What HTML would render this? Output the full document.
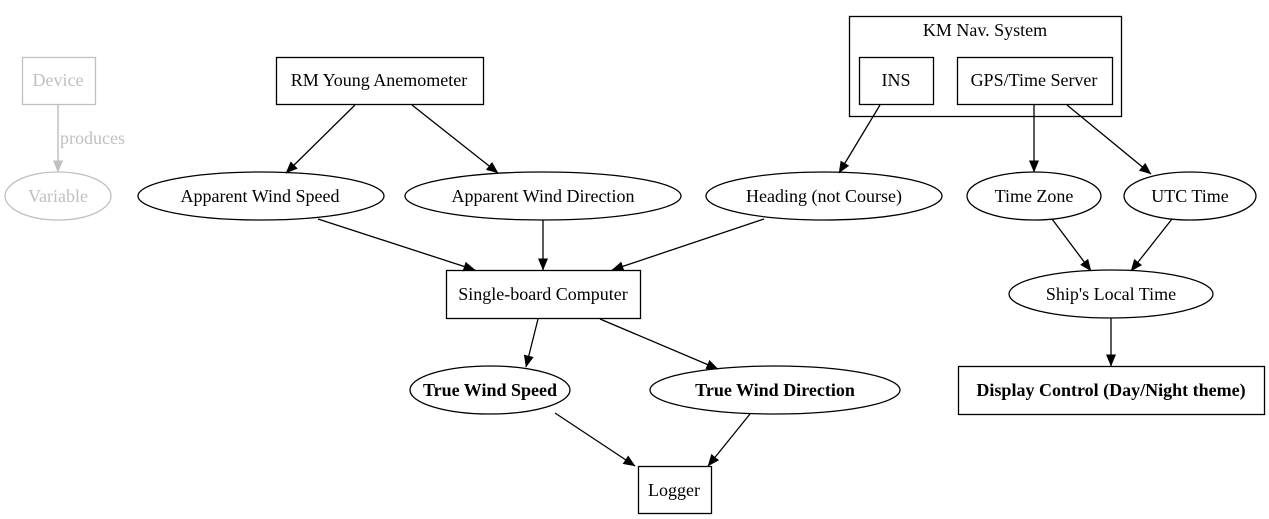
<!DOCTYPE html>
<html><head><style>
html,body{margin:0;padding:0;background:#fff;}
svg{display:block;font-family:"Liberation Serif",serif;font-size:18px;}
</style></head><body>
<svg width="1269" height="519" viewBox="0 0 1269 519" xmlns="http://www.w3.org/2000/svg">
<defs>
<marker id="a" markerWidth="12" markerHeight="10" refX="11.5" refY="5" orient="auto" markerUnits="userSpaceOnUse"><path d="M0,0 L12,5 L0,10 Z" fill="#000"/></marker>
<marker id="g" markerWidth="12" markerHeight="10" refX="11.5" refY="5" orient="auto" markerUnits="userSpaceOnUse"><path d="M0,0 L12,5 L0,10 Z" fill="#c0c0c0"/></marker>
</defs>
<g fill="none" stroke="#000" stroke-width="1.3">
<rect x="22.5" y="57.5" width="73" height="47" stroke="#c0c0c0"/>
<ellipse cx="58" cy="196" rx="53" ry="24" stroke="#c0c0c0"/>
<line x1="58" y1="105" x2="58" y2="172" stroke="#c0c0c0" stroke-width="1.5" marker-end="url(#g)"/>
<rect x="276.5" y="57.5" width="207" height="47"/>
<rect x="849.5" y="16.5" width="272" height="100"/>
<rect x="859.5" y="57.5" width="74" height="47"/>
<rect x="957.5" y="57.5" width="155" height="47"/>
<rect x="446.5" y="270.5" width="194" height="48"/>
<rect x="958.5" y="366.5" width="306" height="48"/>
<rect x="638.5" y="466.5" width="73" height="47"/>
<ellipse cx="261" cy="196" rx="123" ry="24"/>
<ellipse cx="543" cy="196" rx="138" ry="24"/>
<ellipse cx="824" cy="196" rx="118" ry="24"/>
<ellipse cx="1034" cy="196" rx="67" ry="24"/>
<ellipse cx="1190" cy="196" rx="66" ry="24"/>
<ellipse cx="1111" cy="294" rx="102" ry="24"/>
<ellipse cx="490" cy="390" rx="80" ry="24"/>
<ellipse cx="775" cy="390" rx="125" ry="24"/>
<line x1="355" y1="105" x2="286" y2="173" marker-end="url(#a)"/>
<line x1="412" y1="105" x2="498" y2="173" marker-end="url(#a)"/>
<line x1="880" y1="105" x2="839" y2="173" marker-end="url(#a)"/>
<line x1="1034" y1="105" x2="1034" y2="172" marker-end="url(#a)"/>
<line x1="1067" y1="105" x2="1151" y2="174" marker-end="url(#a)"/>
<line x1="318" y1="219" x2="475" y2="270" marker-end="url(#a)"/>
<line x1="543" y1="220" x2="543" y2="270" marker-end="url(#a)"/>
<line x1="764" y1="219" x2="612" y2="270" marker-end="url(#a)"/>
<line x1="1052" y1="219" x2="1091" y2="271" marker-end="url(#a)"/>
<line x1="1172" y1="219" x2="1131" y2="271" marker-end="url(#a)"/>
<line x1="538" y1="319" x2="526" y2="367" marker-end="url(#a)"/>
<line x1="600" y1="319" x2="718" y2="369" marker-end="url(#a)"/>
<line x1="1111" y1="318" x2="1111" y2="366" marker-end="url(#a)"/>
<line x1="555" y1="413" x2="635" y2="466" marker-end="url(#a)"/>
<line x1="750" y1="414" x2="708" y2="466" marker-end="url(#a)"/>
</g>
<g text-anchor="middle" fill="#000">
<text x="58" y="86" fill="#c0c0c0">Device</text>
<text x="58" y="202" fill="#c0c0c0">Variable</text>
<text x="60" y="144" fill="#c0c0c0" text-anchor="start">produces</text>
<text x="379" y="86">RM Young Anemometer</text>
<text x="985" y="36">KM Nav. System</text>
<text x="896" y="86">INS</text>
<text x="1034" y="86">GPS/Time Server</text>
<text x="260" y="202">Apparent Wind Speed</text>
<text x="543" y="202">Apparent Wind Direction</text>
<text x="824" y="202">Heading (not Course)</text>
<text x="1034" y="202">Time Zone</text>
<text x="1190" y="202">UTC Time</text>
<text x="543" y="300">Single-board Computer</text>
<text x="1111" y="300">Ship's Local Time</text>
<text x="490" y="396" font-weight="bold">True Wind Speed</text>
<text x="775" y="396" font-weight="bold">True Wind Direction</text>
<text x="1111" y="396" font-weight="bold">Display Control (Day/Night theme)</text>
<text x="674" y="496">Logger</text>
</g>
</svg>
</body></html>
